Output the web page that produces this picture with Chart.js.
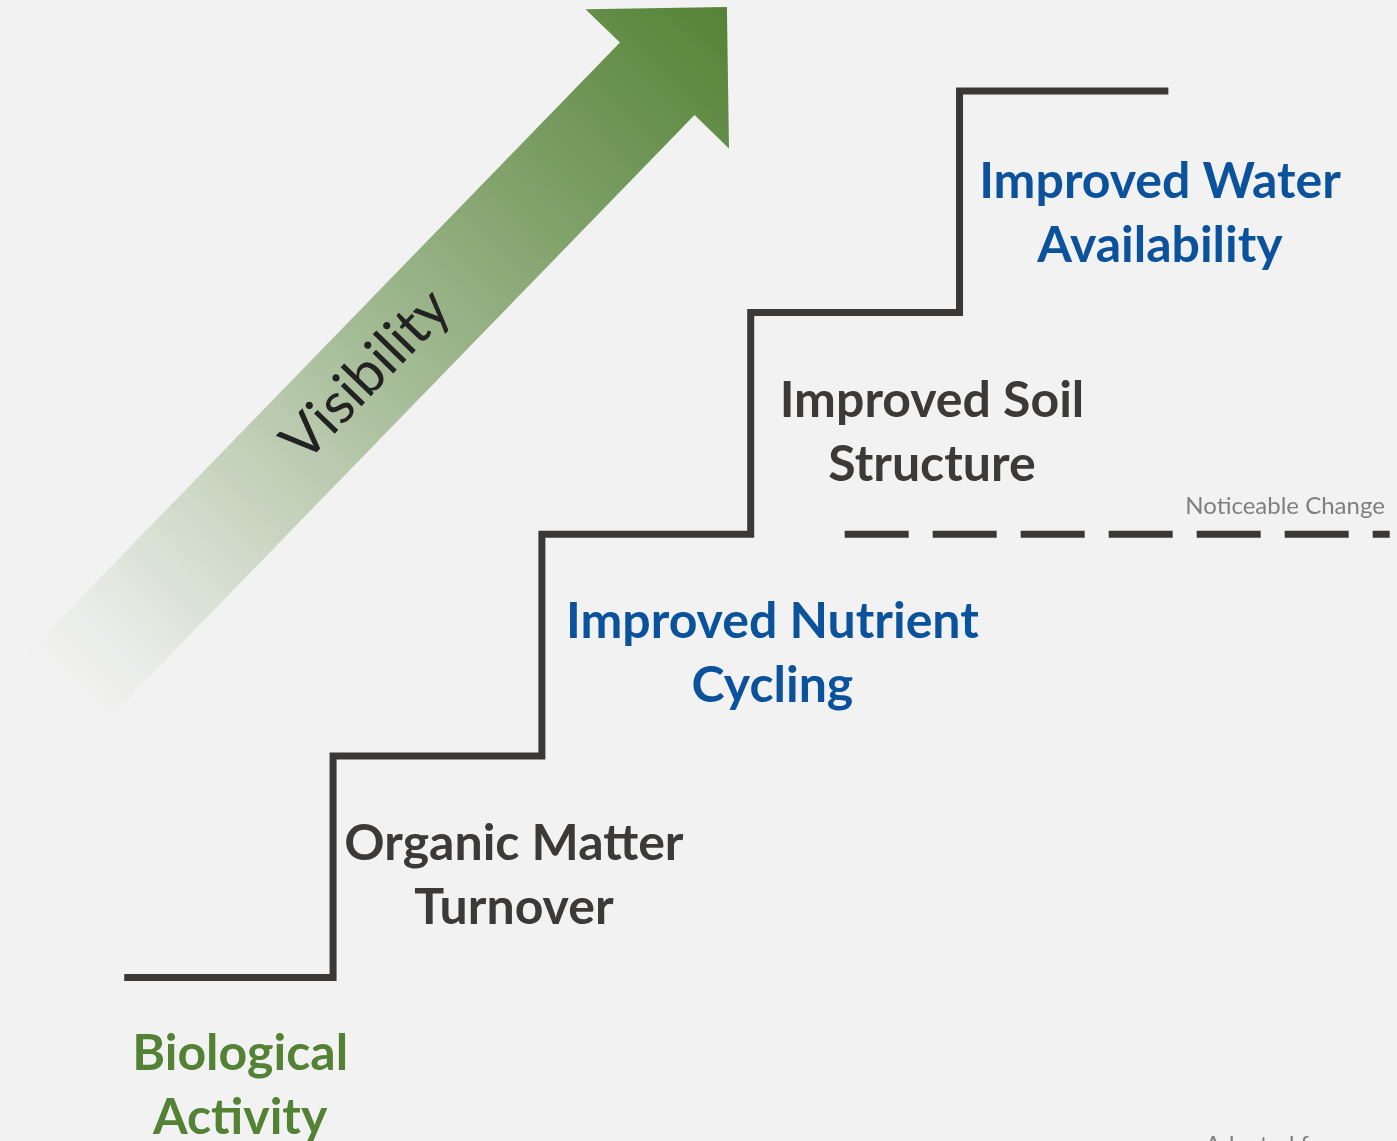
<!DOCTYPE html>
<html>
<head>
<meta charset="utf-8">
<script src="https://cdn.jsdelivr.net/npm/chart.js@4"></script>
<style>
  html, body { margin: 0; padding: 0; background: #f2f2f2; overflow: hidden; }
  #myChart { display: block; }
</style>
</head>
<body>
<canvas id="myChart" width="1397" height="1141"></canvas>
<script>
// staircase: one step per stage, level rises by one each time
var stepIndex = [0, 1, 2, 3, 4, 5];
var stepLevel = [0, 1, 2, 3, 4, 4];

// stage names, bottom to top
var stages = [
    ['Biological', 'Activity'],
    ['Organic Matter', 'Turnover'],
    ['Improved Nutrient', 'Cycling'],
    ['Improved Soil', 'Structure'],
    ['Improved Water', 'Availability']
];
var stageColors = ['#548235', '#3b3a39', '#0b529c', '#3b3a39', '#0b529c'];

// threshold where change becomes noticeable
var noticeableLevel = 2;
var noticeableLabel = 'Noticeable Change';
var noticeableFrom = 3.45;
var noticeableTo = 6.06;

var arrowLabel = 'Visibility';
var sourceNote = 'Adapted from';

var lineColor = '#3a3938';

// where each stage label sits (step units, level units of the first baseline)
var stageAnchors = [
    { x: 0.555, y: -0.417 },
    { x: 1.866, y: 0.531 },
    { x: 3.104, y: 1.532 },
    { x: 3.868, y: 2.529 },
    { x: 4.96, y: 3.516 }
];

var labelsPlugin = {
    id: 'stairDecor',
    beforeDatasetsDraw: function(chart) {
        var c = chart.ctx;
        var xs = chart.scales.x, ys = chart.scales.y;
        // arrow from tail to tip, in scale units
        var tx = xs.getPixelForValue(-0.322), ty = ys.getPixelForValue(1.266);
        var hx = xs.getPixelForValue(2.886), hy = ys.getPixelForValue(4.378);
        var dx = hx - tx, dy = hy - ty;
        var len = Math.sqrt(dx * dx + dy * dy);
        var ux = dx / len, uy = dy / len;
        var nx = -uy, ny = ux;
        var shaftHalf = 52, headHalf = 100, headLen = 100;
        var bx = hx - ux * headLen, by = hy - uy * headLen;
        var grad = c.createLinearGradient(tx, ty, hx, hy);
        grad.addColorStop(0, 'rgba(84,130,53,0)');
        grad.addColorStop(0.08, 'rgba(84,130,53,0.04)');
        grad.addColorStop(0.5, 'rgba(84,130,53,0.5)');
        grad.addColorStop(1, 'rgba(84,130,53,1)');
        c.save();
        c.fillStyle = grad;
        c.beginPath();
        c.moveTo(tx + nx * shaftHalf, ty + ny * shaftHalf);
        c.lineTo(bx + nx * shaftHalf, by + ny * shaftHalf);
        c.lineTo(bx + nx * headHalf, by + ny * headHalf);
        c.lineTo(hx, hy);
        c.lineTo(bx - nx * headHalf, by - ny * headHalf);
        c.lineTo(bx - nx * shaftHalf, by - ny * shaftHalf);
        c.lineTo(tx - nx * shaftHalf, ty - ny * shaftHalf);
        c.closePath();
        c.fill();

        // arrow label along the shaft
        var mx = xs.getPixelForValue(1.158), my = ys.getPixelForValue(2.718);
        c.translate(mx, my);
        c.rotate(Math.atan2(dy, dx));
        c.fillStyle = '#222222';
        c.font = '57px Lato';
        c.textAlign = 'center';
        c.textBaseline = 'middle';
        c.fillText(arrowLabel, 0, 0);
        c.restore();
    },
    afterDatasetsDraw: function(chart) {
        var c = chart.ctx;
        var xs = chart.scales.x, ys = chart.scales.y;
        c.save();
        c.textAlign = 'center';
        c.textBaseline = 'alphabetic';
        c.font = 'bold 50px Lato';
        stages.forEach(function(lines, i) {
            var px = xs.getPixelForValue(stageAnchors[i].x);
            var py = ys.getPixelForValue(stageAnchors[i].y);
            c.fillStyle = stageColors[i];
            lines.forEach(function(t, j) {
                c.fillText(t, px, py + j * 64);
            });
        });
        c.fillStyle = '#7f7f7f';
        c.font = '24px Lato';
        c.textAlign = 'right';
        c.fillText(noticeableLabel, xs.getPixelForValue(6.037), ys.getPixelForValue(2.09));
        c.textAlign = 'left';
        c.fillText(sourceNote, xs.getPixelForValue(5.176), ys.getPixelForValue(-0.79));
        c.restore();
    }
};

var ctx = document.getElementById('myChart').getContext('2d');
var myChart = new Chart(ctx, {
    type: 'line',
    data: {
        datasets: [{
            label: 'Stages',
            data: stepIndex.map(function(s, i) { return { x: s, y: stepLevel[i] }; }),
            stepped: 'before',
            borderColor: lineColor,
            borderWidth: 7,
            borderJoinStyle: 'miter',
            borderCapStyle: 'butt',
            pointRadius: 0,
            fill: false
        },
        {
            label: noticeableLabel,
            data: [{ x: noticeableFrom, y: noticeableLevel }, { x: noticeableTo, y: noticeableLevel }],
            borderColor: lineColor,
            borderWidth: 7,
            borderDash: [64, 24],
            borderCapStyle: 'butt',
            pointRadius: 0,
            fill: false
        }]
    },
    options: {
        responsive: false,
        animation: false,
        layout: { padding: 0 },
        plugins: {
            legend: { display: false },
            tooltip: { enabled: false }
        },
        scales: {
            x: { type: 'linear', display: false, min: -0.595, max: 6.095 },
            y: { type: 'linear', display: false, min: -0.737, max: 4.41 }
        }
    },
    plugins: [labelsPlugin]
});
</script>
</body>
</html>
